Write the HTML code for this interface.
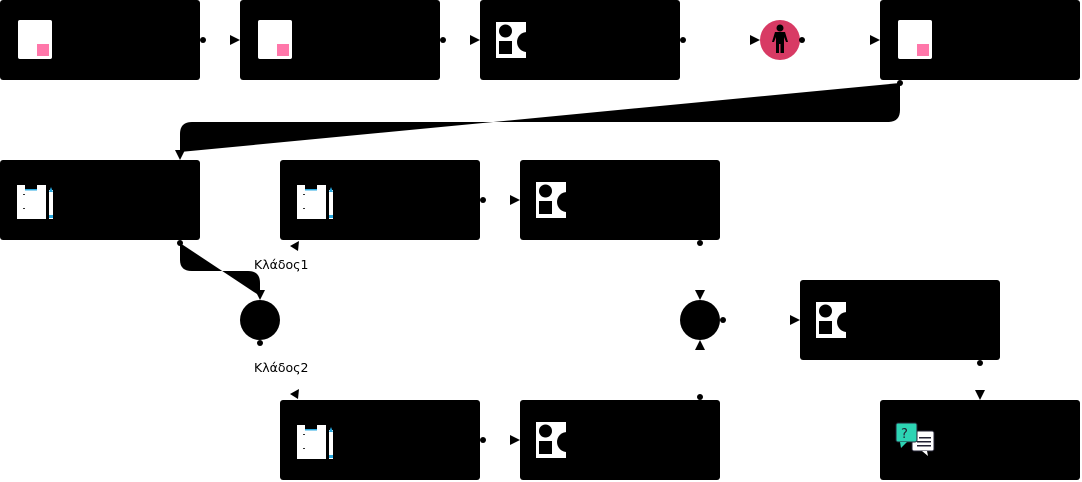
<!DOCTYPE html>
<html><head><meta charset="utf-8"><style>
html,body{margin:0;padding:0;background:#fff;width:1082px;height:482px;overflow:hidden}
svg{display:block}
text{font-family:"DejaVu Sans","Liberation Sans",sans-serif;font-size:12.5px;fill:#000}
</style></head><body>
<svg width="1082" height="482" viewBox="0 0 1082 482" xmlns="http://www.w3.org/2000/svg">
<defs>
<g id="doc"><rect x="0" y="0" width="34" height="39" rx="2" fill="#fff"/><rect x="19" y="24" width="12" height="12" fill="#ff77aa"/></g>
<g id="shp"><rect x="0" y="0" width="30" height="36" fill="#fff"/><circle cx="9.5" cy="9" r="6.5" fill="#000"/><rect x="3" y="19" width="13" height="13" fill="#000"/><circle cx="31" cy="20" r="10" fill="#000"/></g>
<g id="clip"><rect x="0" y="0" width="29" height="34" fill="#fff"/><rect x="8" y="0" width="12" height="5" fill="#000"/><rect x="8" y="4" width="12" height="1.5" fill="#29a9e0"/><rect x="32" y="5" width="4" height="29" fill="#fff"/><path d="M32 7 L34 2 L36 7Z" fill="#29a9e0"/><rect x="32" y="30" width="4" height="3" fill="#29a9e0"/><rect x="6" y="9" width="2" height="1" fill="#333"/><rect x="6" y="23" width="2" height="1" fill="#333"/></g>
</defs>
<path d="M900 83 L900 110 Q900 122 888 122 L192 122 Q180 122 180 134 L180 152 Z" fill="#000"/>
<path d="M180 243 L180 260 Q180 271 192 271 L248 271 Q260 271 260 283 L260 296 Z" fill="#000"/>
<g fill="#000">
<rect x="0" y="0" width="200" height="80" rx="3"/>
<rect x="240" y="0" width="200" height="80" rx="3"/>
<rect x="480" y="0" width="200" height="80" rx="3"/>
<rect x="880" y="0" width="200" height="80" rx="3"/>
<rect x="0" y="160" width="200" height="80" rx="3"/>
<rect x="280" y="160" width="200" height="80" rx="3"/>
<rect x="520" y="160" width="200" height="80" rx="3"/>
<rect x="800" y="280" width="200" height="80" rx="3"/>
<rect x="280" y="400" width="200" height="80" rx="3"/>
<rect x="520" y="400" width="200" height="80" rx="3"/>
<rect x="880" y="400" width="200" height="80" rx="3"/>
<circle cx="260" cy="320" r="20"/>
<circle cx="700" cy="320" r="20"/>
</g>
<circle cx="780" cy="40" r="20" fill="#d83a64"/>
<g fill="#000"><circle cx="780" cy="28" r="3.5"/><path d="M775 32 H785 L788 42 H786 L784 37 V53 H776 V37 L774 42 H772 Z"/></g>
<rect x="779" y="44" width="1.5" height="9" fill="#d83a64"/>
<use href="#doc" x="18" y="20"/><use href="#doc" x="258" y="20"/><use href="#doc" x="898" y="20"/>
<use href="#shp" x="496" y="22"/><use href="#shp" x="536" y="182"/><use href="#shp" x="816" y="302"/><use href="#shp" x="536" y="422"/>
<use href="#clip" x="17" y="185"/><use href="#clip" x="297" y="185"/><use href="#clip" x="297" y="425"/>
<rect x="912" y="431" width="22" height="20" rx="2" fill="#fff" stroke="#223" stroke-width="1"/>
<path d="M922 451 L928 456 L927 451Z" fill="#fff"/>
<rect x="919" y="437" width="12" height="1.5" fill="#223"/><rect x="917" y="441" width="14" height="1.5" fill="#223"/><rect x="917" y="445" width="14" height="1.5" fill="#223"/>
<rect x="896" y="423" width="21" height="19" rx="2" fill="#2dd4b4" stroke="#223" stroke-width="1"/>
<path d="M900 442 L901 448 L907 442Z" fill="#2dd4b4"/>
<text x="901" y="438" style="font-size:13px;fill:#223">?</text>
<g fill="#000">
<circle cx="203" cy="40" r="3"/><circle cx="443" cy="40" r="3"/><circle cx="683" cy="40" r="3"/><circle cx="802" cy="40" r="3"/>
<circle cx="900" cy="83" r="3"/><circle cx="483" cy="200" r="3"/><circle cx="180" cy="243" r="3"/>
<circle cx="260" cy="343" r="3"/><circle cx="700" cy="243" r="3"/><circle cx="723" cy="320" r="3"/>
<circle cx="700" cy="397" r="3"/><circle cx="980" cy="363" r="3"/><circle cx="483" cy="440" r="3"/>
<path d="M230 35 L240 40 L230 45Z"/><path d="M470 35 L480 40 L470 45Z"/><path d="M750 35 L760 40 L750 45Z"/><path d="M870 35 L880 40 L870 45Z"/>
<path d="M175 150 L185 150 L180 160Z"/>
<path d="M510 195 L520 200 L510 205Z"/>
<path d="M299 241 L290 246 L298 251Z"/>
<path d="M255 290 L265 290 L260 300Z"/>
<path d="M299 389 L290 394 L298 399Z"/>
<path d="M510 435 L520 440 L510 445Z"/>
<path d="M695 290 L705 290 L700 300Z"/>
<path d="M695 350 L705 350 L700 340Z"/>
<path d="M790 315 L800 320 L790 325Z"/>
<path d="M975 390 L985 390 L980 400Z"/>
</g>
<text x="254" y="269">Κλάδος1</text>
<text x="254" y="372">Κλάδος2</text>
</svg>
</body></html>
